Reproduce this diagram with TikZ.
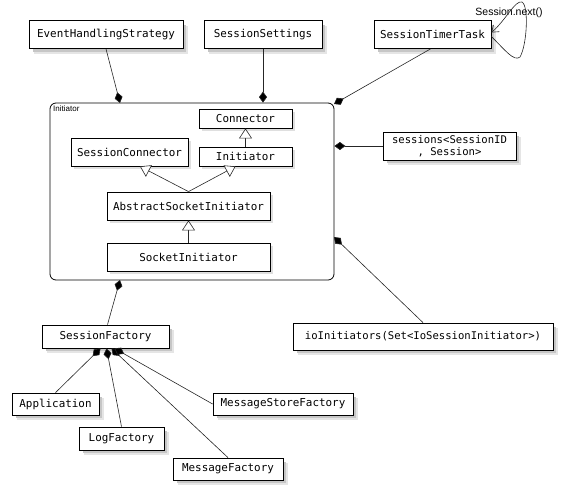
\documentclass[tikz,border=0pt]{standalone}
\usepackage{fontspec}
\setmainfont{Liberation Sans}
\newfontfamily\monof{DejaVu Sans Mono}
\usetikzlibrary{arrows.meta}
\begin{document}
\begin{tikzpicture}[x=1pt,y=-1pt,
  box/.style={draw=black, fill=white, line width=0.8pt, inner sep=0pt,
    font={\monof\fontsize{10.9}{12.5}\selectfont}},
  shadowA/.style={draw=gray!45, line width=2.5pt},
  shadowB/.style={draw=gray!20, line width=2pt},
  conn/.style={line width=0.6pt, draw=black!85},
  comp/.style={conn, -{Diamond[length=11pt,width=8pt,fill=black]}},
  gen/.style={conn, -{Triangle[open,length=10pt,width=13pt,fill=white]}},
  loop/.style={conn, -{Straight Barb[length=6pt,width=9pt]}}
]
\useasboundingbox (0,0) rectangle (564,496);

% geometry holders (invisible), then shadows, then boxes
\def\boxes{ehs/106/34.5/154/28, ss/263/34.5/118/28, stt/432.5/34.5/117/28,
  sess/449.5/146/133/28, ioi/423/336.5/260/27, sf/105.5/336.5/127/23,
  app/55.5/404/87/22, log/121.5/438.5/85/23, mf/228/469/110/22, msf/283/404/140/22}
\foreach \n/\x/\y/\w/\h in \boxes {
  \draw[shadowB] (\x-\w/2+5, \y+\h/2+4) -- (\x+\w/2+4, \y+\h/2+4) -- (\x+\w/2+4, \y-\h/2+5);
  \draw[shadowA] (\x-\w/2+4, \y+\h/2+2.2) -- (\x+\w/2+2.2, \y+\h/2+2.2) -- (\x+\w/2+2.2, \y-\h/2+4);
}

% frame
\node[draw=black, line width=0.8pt, rounded corners=6pt, minimum width=284pt, minimum height=177pt, inner sep=0pt] (frame) at (192,191.5) {};
\node[anchor=north west, inner sep=0pt, font=\fontsize{8}{9}\selectfont] (flabel) at (53,105) {Initiator};

% inner-box shadows
\def\iboxes{245.5/118.5/93/19, 245.5/156.5/93/19, 129.5/152/117/28, 188.5/206/163/28, 188.5/257/163/28}
\foreach \x/\y/\w/\h in \iboxes {
  \draw[draw=gray!25, line width=1.8pt] (\x-\w/2+3, \y+\h/2+1.6) -- (\x+\w/2+1.6, \y+\h/2+1.6) -- (\x+\w/2+1.6, \y-\h/2+3);
}

% top nodes
\node[box, minimum width=154pt, minimum height=28pt] (ehs) at (106,34.5) {EventHandlingStrategy};
\node[box, minimum width=118pt, minimum height=28pt] (ss) at (263,34.5) {SessionSettings};
\node[box, minimum width=117pt, minimum height=28pt] (stt) at (432.5,34.5) {SessionTimerTask};
\node[inner sep=0pt, font=\fontsize{10.5}{12}\selectfont] (nextlbl) at (509,13) {Session.next()};

% inner nodes
\node[box, minimum width=93pt, minimum height=19pt] (cn) at (245.5,118.5) {Connector};
\node[box, minimum width=93pt, minimum height=19pt] (ini) at (245.5,156.5) {Initiator};
\node[box, minimum width=117pt, minimum height=28pt] (sconn) at (129.5,152) {SessionConnector};
\node[box, minimum width=163pt, minimum height=28pt] (asi) at (188.5,206) {AbstractSocketInitiator};
\node[box, minimum width=163pt, minimum height=28pt] (si) at (188.5,257) {SocketInitiator};

% right nodes
\node[box, minimum width=133pt, minimum height=28pt, align=center,
  font={\monof\fontsize{10.6}{12}\selectfont}] (sess) at (449.5,146) {sessions<SessionID\\, Session>};
\node[box, minimum width=260pt, minimum height=27pt, font={\monof\fontsize{10.6}{12.5}\selectfont}] (ioi) at (423,336.5) {ioInitiators(Set<IoSessionInitiator>)};

% bottom nodes
\node[box, minimum width=127pt, minimum height=23pt] (sf) at (105.5,336.5) {SessionFactory};
\node[box, minimum width=87pt, minimum height=22pt] (app) at (55.5,404) {Application};
\node[box, minimum width=85pt, minimum height=23pt] (log) at (121.5,438.5) {LogFactory};
\node[box, minimum width=110pt, minimum height=22pt] (mf) at (228,469) {MessageFactory};
\node[box, minimum width=140pt, minimum height=22pt] (msf) at (283,404) {MessageStoreFactory};

% anchor coordinates on frame
\coordinate (cE) at (120,103);
\coordinate (cS) at (frame.north -| ss.south);
\coordinate (cT) at (334,104);
\coordinate (cSe) at (frame.east |- sess.west);
\coordinate (cI) at (334,237);
\coordinate (cF) at (120,280);

% composition connectors
\draw[comp] (ehs.south) -- (cE);
\draw[comp] (ss.south) -- (cS);
\draw[comp] ([xshift=-2pt]stt.south) -- (cT);
\draw[comp] (sess.west) -- (cSe);
\draw[comp] (ioi.north) -- (cI);
\draw[comp] ([xshift=2pt]sf.north) -- (cF);

% generalizations
\draw[gen] (ini.north) -- (cn.south);
\draw[gen] (asi.north) -- ([xshift=10.5pt]sconn.south);
\draw[gen] (asi.north) -- ([xshift=-10pt]ini.south);
\draw[gen] (si.north) -- (asi.south);

% session factory parts
\draw[comp] (app.north) -- ([xshift=-5pt]sf.south);
\draw[comp] (log.north) -- ([xshift=1pt]sf.south);
\draw[comp] (mf.north) -- ([xshift=6pt]sf.south);
\draw[comp] (msf.west) -- ([xshift=9pt]sf.south);

% self loop
\draw[loop] ([yshift=-2pt]stt.east) .. controls (505,50) and (514,62) .. (520,57)
  .. controls (527,45) and (529,6) .. (522,2)
  .. controls (515,0) and (506,20) .. ([yshift=2pt]stt.east);
\end{tikzpicture}
\end{document}
